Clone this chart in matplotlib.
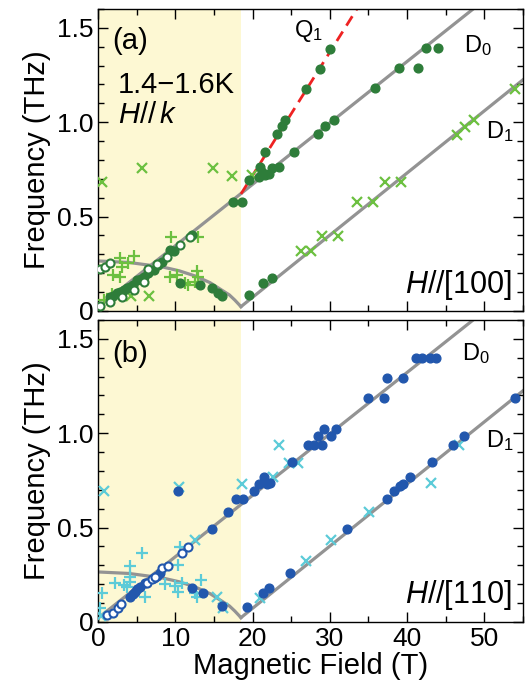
import numpy as np
import matplotlib
matplotlib.use("Agg")
import matplotlib.pyplot as plt
from matplotlib.ticker import MultipleLocator

plt.rcParams['font.family'] = ['Liberation Sans', 'DejaVu Sans']
plt.rcParams['mathtext.fontset'] = 'custom'
plt.rcParams['mathtext.rm'] = 'Liberation Sans'
plt.rcParams['mathtext.it'] = 'Liberation Sans:italic'

# ---- data: field (T), frequency (THz) ----
# theory lines
d0_line_h = [0.0, 55.0]
d0_line_f = [0.02, 1.81]
d1_line_h = [18.5, 55.0]
d1_line_f = [0.023, 1.225]
low_curve_h = [0.0, 4.0, 8.25, 10.5, 12.6, 14.5, 16.0, 17.0, 17.7, 18.5]
low_curve_f = [0.265, 0.257, 0.234, 0.213, 0.185, 0.15, 0.111, 0.085, 0.058, 0.023]
q1_line_h = [18.5, 33.5]
q1_line_f = [0.62, 1.6]

# (a) H//[100]
a_fill_h = [1.55, 2.0, 2.4, 2.9, 3.3, 3.7, 4.1, 4.5, 5.0, 5.5, 5.9, 6.5, 7.2, 7.8, 8.25, 9.3, 9.8, 12.1,
            10.6, 13.2, 14.7, 15.5, 16.1, 17.5, 18.6,
            19.5, 20.8, 21.0, 21.2, 21.6, 22.1, 22.5, 23.4, 25.3, 28.5, 29.4, 30.6,
            35.9, 38.9, 41.4, 42.4, 44.0,
            21.6, 23.1, 23.8, 24.2, 26.9, 28.7, 30.0,
            19.5, 21.4, 22.5]
a_fill_f = [0.076, 0.08, 0.094, 0.1, 0.11, 0.12, 0.128, 0.14, 0.164, 0.17, 0.182, 0.199, 0.217, 0.243, 0.261, 0.323, 0.32, 0.402,
            0.148, 0.138, 0.12, 0.095, 0.08, 0.578, 0.578,
            0.693, 0.71, 0.764, 0.737, 0.72, 0.728, 0.76, 0.764, 0.843, 0.935, 0.979, 1.01,
            1.18, 1.287, 1.287, 1.393, 1.393,
            0.843, 0.937, 0.979, 1.014, 1.178, 1.284, 1.39,
            0.085, 0.146, 0.173]
a_open_h = [0.26, 1.55, 3.07, 4.6, 5.9, 6.5, 7.6, 8.9, 10.6, 11.9, 0.26, 0.9, 1.55]
a_open_f = [0.026, 0.049, 0.076, 0.11, 0.155, 0.22, 0.25, 0.287, 0.349, 0.393, 0.22, 0.234, 0.252]
a_x_h = [0.5, 5.7, 14.9, 17.4, 19.9, 4.3, 6.6,
         26.3, 27.5, 29.0, 31.0, 33.5, 35.6, 37.2, 39.2, 46.5, 47.5, 48.6, 54.0]
a_x_f = [0.684, 0.755, 0.755, 0.714, 0.72, 0.08, 0.081,
         0.319, 0.319, 0.398, 0.398, 0.578, 0.578, 0.684, 0.684, 0.931, 0.975, 1.014, 1.178]
a_plus_h = [9.5, 13.0, 2.85, 4.6, 3.9, 3.07, 2.0, 2.85, 9.3, 10.2, 11.3, 11.7, 12.6, 12.8, 13.0, 0.8, 1.8]
a_plus_f = [0.39, 0.39, 0.279, 0.291, 0.256, 0.234, 0.19, 0.18, 0.18, 0.19, 0.146, 0.138, 0.155, 0.213, 0.18, 0.06, 0.09]

# (b) H//[110]
b_fill_h = [4.1, 4.5, 4.8, 5.1, 5.4, 6.1, 7.2, 7.6, 8.0, 10.3, 14.7, 16.8, 17.8, 18.8,
            12.1, 13.6, 16.0,
            20.2, 20.8, 21.5, 21.9, 22.2, 25.1, 27.2, 27.9, 28.5, 29.0, 29.3, 30.2, 30.8,
            34.9, 37.0, 37.4, 39.5, 41.1, 41.9, 43.0, 43.7,
            19.3, 21.4, 22.1, 24.8, 32.2, 37.4, 38.3, 39.1, 39.5, 40.4, 43.2, 45.9, 47.4, 53.9]
b_fill_f = [0.134, 0.148, 0.16, 0.172, 0.187, 0.205, 0.231, 0.245, 0.258, 0.695, 0.49, 0.584, 0.654, 0.654,
            0.178, 0.152, 0.086,
            0.695, 0.73, 0.766, 0.73, 0.735, 0.848, 0.94, 0.94, 0.984, 0.94, 1.02, 0.984, 1.02,
            1.187, 1.187, 1.29, 1.29, 1.40, 1.40, 1.40, 1.40,
            0.081, 0.152, 0.178, 0.261, 0.49, 0.654, 0.695, 0.72, 0.73, 0.766, 0.848, 0.94, 0.984, 1.187]
b_open_h = [1.1, 2.0, 2.6, 3.0, 6.3, 7.0, 7.4, 8.25, 9.1, 10.9, 11.7]
b_open_f = [0.037, 0.046, 0.072, 0.095, 0.205, 0.226, 0.24, 0.284, 0.298, 0.363, 0.398]
b_x_h = [0.8, 10.5, 18.6, 12.6, 15.4, 16.2, 0.4,
         23.4, 22.6, 24.7, 25.9, 21.0, 26.9, 30.2, 35.1, 43.1, 46.7]
b_x_f = [0.695, 0.716, 0.73, 0.434, 0.134, 0.072, 0.032,
         0.937, 0.766, 0.843, 0.843, 0.125, 0.324, 0.434, 0.584, 0.734, 0.937]
b_plus_h = [5.7, 4.1, 4.1, 2.2, 3.3, 3.7, 4.1, 0.5, 6.1, 8.7, 10.0, 10.4, 10.6, 10.4, 10.9, 12.6, 13.3, 12.8, 0.26]
b_plus_f = [0.363, 0.296, 0.24, 0.205, 0.196, 0.187, 0.213, 0.152, 0.134, 0.2, 0.19, 0.16, 0.398, 0.30, 0.205, 0.155, 0.222, 0.134, 0.072]

h_afm = 18.5

dkgreen = '#2e7d3a'
ltgreen = '#6cc040'
blue = '#2257ad'
cyan = '#5ccbd8'
grey = '#939393'
shade = '#fdf8d3'

fig = plt.figure(figsize=(5.25, 6.9), dpi=100)
ax1 = fig.add_axes([0.1867, 0.5493, 0.8095, 0.4377])
ax2 = fig.add_axes([0.1867, 0.0986, 0.8095, 0.4377])

def setup(ax):
    ax.axvspan(0, h_afm, color=shade, lw=0, zorder=0)
    ax.plot(d0_line_h, d0_line_f, color=grey, lw=2.3, zorder=1)
    ax.plot(d1_line_h, d1_line_f, color=grey, lw=2.3, zorder=1)
    ax.plot(low_curve_h, low_curve_f, color=grey, lw=2.3, zorder=1)
    ax.set_xlim(0, 55)
    ax.set_ylim(0, 1.6)
    ax.xaxis.set_major_locator(MultipleLocator(10))
    ax.xaxis.set_minor_locator(MultipleLocator(5))
    ax.yaxis.set_major_locator(MultipleLocator(0.5))
    ax.yaxis.set_minor_locator(MultipleLocator(0.1))
    ax.tick_params(which='both', direction='in', top=True, right=True, labelsize=19, width=1)
    ax.tick_params(which='major', length=7)
    ax.tick_params(which='minor', length=4)
    ax.set_yticks([0, 0.5, 1.0, 1.5])
    ax.set_yticklabels(['0', '0.5', '1.0', '1.5'])
    ax.set_ylabel('Frequency (THz)', fontsize=21, labelpad=4)
    for s in ax.spines.values():
        s.set_linewidth(1.0)

setup(ax1)
setup(ax2)

# panel (a)
ax1.plot(q1_line_h, q1_line_f, color='#ee2222', lw=2.0, ls=(0, (4, 2.5)), zorder=2)
ax1.plot(a_x_h, a_x_f, ls='none', marker='x', ms=7, mew=1.6, color=ltgreen, zorder=3)
ax1.plot(a_plus_h, a_plus_f, ls='none', marker='+', ms=8, mew=1.6, color=ltgreen, zorder=3)
ax1.plot(a_fill_h, a_fill_f, ls='none', marker='o', ms=6.3, color=dkgreen, mec=dkgreen, zorder=4)
ax1.plot(a_open_h, a_open_f, ls='none', marker='o', ms=5.8, mfc='white', mec=dkgreen, mew=1.5, zorder=5)
ax1.tick_params(labelbottom=False)

ax1.text(1.8, 1.386, '(a)', fontsize=21)
ax1.text(2.6, 1.153, '1.4\u22121.6K', fontsize=21)
ax1.text(2.6, 0.995, '$\\mathit{H//\\,k}$', fontsize=21)
ax1.text(25.3, 1.45, 'Q$_1$', fontsize=17)
ax1.text(47.3, 1.37, 'D$_0$', fontsize=17)
ax1.text(50.2, 0.915, 'D$_1$', fontsize=17)
ax1.text(53.5, 0.095, '$\\mathit{H//}$[100]', fontsize=22, ha='right')

# panel (b)
ax2.plot(b_x_h, b_x_f, ls='none', marker='x', ms=7, mew=1.6, color=cyan, zorder=3)
ax2.plot(b_plus_h, b_plus_f, ls='none', marker='+', ms=8, mew=1.6, color=cyan, zorder=3)
ax2.plot(b_fill_h, b_fill_f, ls='none', marker='o', ms=6.3, color=blue, mec=blue, zorder=4)
ax2.plot(b_open_h, b_open_f, ls='none', marker='o', ms=5.8, mfc='white', mec=blue, mew=1.5, zorder=5)

ax2.text(1.8, 1.377, '(b)', fontsize=21)
ax2.text(47.1, 1.386, 'D$_0$', fontsize=17)
ax2.text(50.2, 0.926, 'D$_1$', fontsize=17)
ax2.text(53.5, 0.1, '$\\mathit{H//}$[110]', fontsize=22, ha='right')
ax2.set_xlabel('Magnetic Field (T)', fontsize=21, labelpad=1)

fig.savefig('out.png', dpi=100)
